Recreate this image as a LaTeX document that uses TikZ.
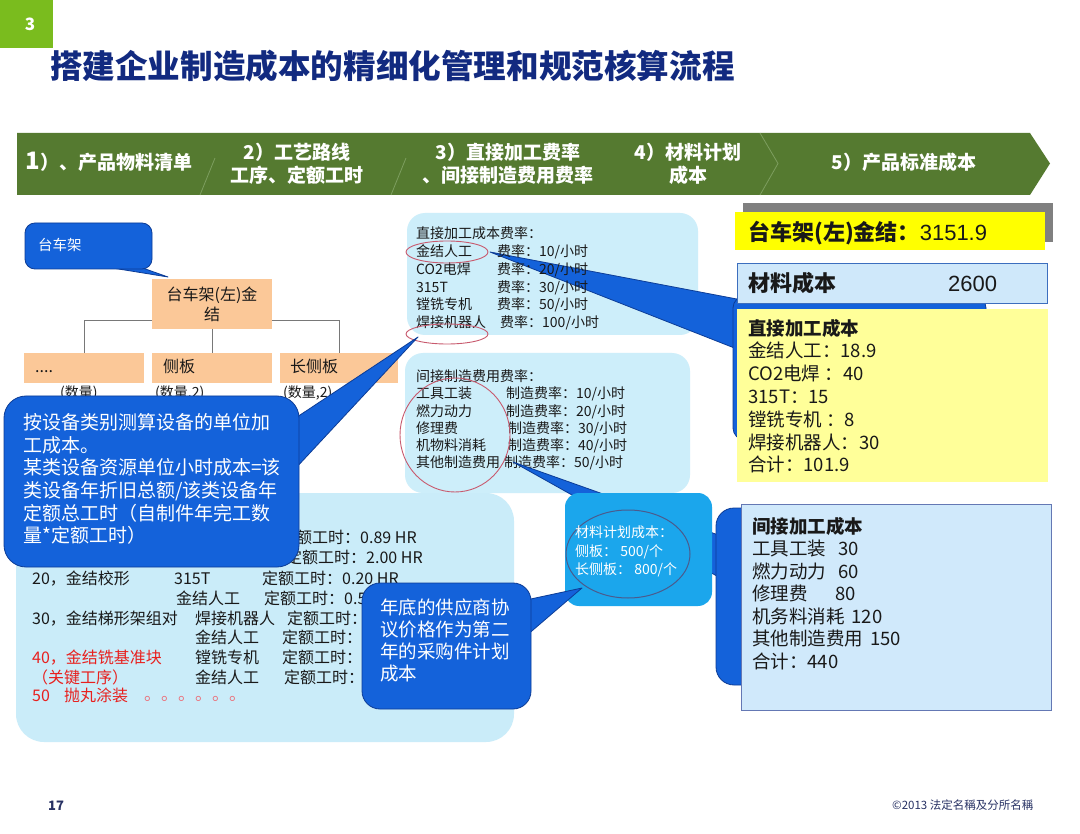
\documentclass[tikz,border=0pt]{standalone}
\usepackage{fontspec}
\setmainfont{Noto Sans CJK SC}
\newfontfamily\lat{Liberation Sans}
\usetikzlibrary{shapes.geometric}
\newcommand\fsz[2]{\fontsize{#1}{#2}\selectfont}
\definecolor{hdrgreen}{RGB}{85,122,48}
\definecolor{hdrline}{RGB}{125,158,95}
\definecolor{limegr}{RGB}{122,188,30}
\definecolor{navy}{RGB}{18,42,128}
\definecolor{calfill}{RGB}{20,98,218}
\definecolor{caldraw}{RGB}{12,60,150}
\definecolor{paleblue}{RGB}{205,238,250}
\definecolor{paleblue2}{RGB}{202,236,249}
\definecolor{peach}{RGB}{251,200,152}
\definecolor{cyanbox}{RGB}{27,166,236}
\definecolor{ellred}{RGB}{200,90,110}
\definecolor{ellgray}{RGB}{75,90,140}
\definecolor{brightyellow}{RGB}{255,255,0}
\definecolor{lightyellow}{RGB}{255,255,153}
\definecolor{matblue}{RGB}{207,232,250}
\definecolor{matborder}{RGB}{60,110,190}
\definecolor{indblue}{RGB}{208,233,251}
\definecolor{indborder}{RGB}{100,120,180}
\definecolor{redtext}{RGB}{232,32,30}
\definecolor{dotred}{RGB}{235,110,120}
\definecolor{treeline}{RGB}{120,120,120}
\definecolor{shadowgray}{RGB}{128,128,128}
\definecolor{foot}{RGB}{40,50,100}
\definecolor{ink}{RGB}{25,25,25}
\tikzset{
 sbox/.style={anchor=north west, inner sep=0pt, outer sep=0pt},
 lbl/.style={anchor=north west, inner sep=0pt, align=left, text=ink},
 tb/.style={anchor=base west, inner sep=0pt, text=ink},
 callbody/.style={sbox, fill=calfill, draw=caldraw, line width=0.8pt, rounded corners=#1},
 callptr/.style={fill=calfill, draw=caldraw, line width=0.8pt, line join=round},
 pale/.style={sbox, fill=paleblue, rounded corners=#1},
 peachbox/.style={sbox, fill=peach},
 redell/.style={ellipse, draw=ellred, line width=0.9pt, inner sep=0pt},
 hdr/.style={text=white, inner sep=0pt, font=\fsz{19}{23}\bfseries, align=center},
 treeedge/.style={draw=treeline, line width=0.9pt},
}
\begin{document}
\begin{tikzpicture}[x=1pt,y=-1pt]
\useasboundingbox[fill=white] (0,0) rectangle (1080,834);

% badge and title
\node[sbox, fill=limegr, minimum width=53pt, minimum height=48pt] (badge) at (0,0) {};
\node[anchor=base, inner sep=0pt, text=white, font=\fsz{17}{17}\bfseries] (badgenum) at (30,31) {3};
\node[anchor=base west, inner sep=0pt, text=navy, font=\fsz{32.6}{34}\bfseries] (title) at (50,79) {搭建企业制造成本的精细化管理和规范核算流程};

% header bar
\fill[hdrgreen] (17,133) -- (1030,133) -- (1050,163.5) -- (1030,195) -- (17,195) -- cycle;
\draw[hdrline, line width=0.8pt] (215,158) -- (200,195);
\draw[hdrline, line width=0.8pt] (406,158) -- (391,195);
\draw[hdrline, line width=0.8pt] (760,133) -- (778,163.5) -- (760,195);
\node[hdr, anchor=base] (h1) at (109,170) {{\fsz{24}{24}1}）、产品物料清单};
\node[hdr, anchor=center] (h2) at (297,163.5) {2）工艺路线\\工序、定额工时};
\node[hdr, anchor=center] (h3) at (508,163.5) {3）直接加工费率\\、间接制造费用费率};
\node[hdr, anchor=center] (h4) at (688,163.5) {4）材料计划\\成本};
\node[hdr, anchor=base] (h5) at (904,170) {5）产品标准成本};

% BOM tree
\node[peachbox, minimum width=120pt, minimum height=50pt, align=center, text=ink, font=\fsz{16}{20}] (parent) at (152,279) {台车架(左)金\\结};
\node[peachbox, minimum width=120pt, minimum height=30pt] (c1) at (24,353) {};
\node[peachbox, minimum width=120pt, minimum height=30pt] (c2) at (152,353) {};
\node[peachbox, minimum width=118pt, minimum height=30pt] (c3) at (280,353) {};
\node[tb, font=\fsz{16}{20}] (c1t) at (35,373) {....};
\node[tb, font=\fsz{16}{20}] (c2t) at (163,373) {侧板};
\node[tb, font=\fsz{16}{20}] (c3t) at (290,373) {长侧板};
\draw[treeedge] ([yshift=9pt]parent.south west) -| (c1.north);
\draw[treeedge] ([yshift=9pt]parent.south east) -| (c3.north);
\draw[treeedge] (parent.south) -- (c2.north);
\node[tb, font=\fsz{14}{17}] (q1) at (60,398) {(数量)};
\node[tb, font=\fsz{14}{17}] (q2) at (155,398) {(数量,2)};
\node[tb, font=\fsz{14}{17}] (q3) at (283,398) {(数量,2)};

% rate boxes
\node[pale=18pt, minimum width=291pt, minimum height=122pt] (drbox) at (407,213) {};
\node[pale=18pt, minimum width=285pt, minimum height=140pt] (irbox) at (405,353) {};
\node[sbox, fill=paleblue2, rounded corners=28pt, minimum width=498pt, minimum height=249pt] (bbox) at (16,493) {};

% hidden callout behind the yellow box
\coordinate (h1tip) at (490,252);
\path[callptr] (h1tip) -- (742,300) -- (742,351) -- cycle;
\node[callbody=12pt, minimum width=253pt, minimum height=144pt] (hid1) at (733,296) {};

% direct rate text
\node[lbl, font=\fsz{14}{17.8}] (drtext) at (416,226.7) {直接加工成本费率：\\
\makebox[81pt][l]{金结人工}费率：10/小时\\
\makebox[81pt][l]{CO2电焊}费率：20/小时\\
\makebox[81pt][l]{315T}费率：30/小时\\
\makebox[81pt][l]{镗铣专机}费率：50/小时\\
\makebox[84pt][l]{焊接机器人}费率：100/小时};
\node[redell, minimum width=82pt, minimum height=22pt] (e1) at (447,252) {};
\node[redell, minimum width=82pt, minimum height=20pt] (e2) at (447,334) {};

% indirect rate text
\node[lbl, font=\fsz{14}{17.2}] (irtext) at (416,369.7) {间接制造费用费率：\\
\makebox[90pt][l]{工具工装}制造费率：10/小时\\
\makebox[90pt][l]{燃力动力}制造费率：20/小时\\
\makebox[92pt][l]{修理费}制造费率：30/小时\\
\makebox[92pt][l]{机物料消耗}制造费率：40/小时\\
\makebox[88pt][l]{其他制造费用}制造费率：50/小时};
\node[redell, minimum width=110pt, minimum height=114pt] (e3) at (455,435) {};

% hidden callout behind the indirect cost box
\coordinate (h2tip) at (513,462);
\path[callptr] (h2tip) -- (724,537) -- (724,580) -- cycle;
\node[callbody=18pt, minimum width=80pt, minimum height=177pt] (hid2) at (716,508) {};

% routing text in bottom box
\begin{scope}[every node/.style={tb, font=\fsz{16}{20}}]
\node (r1c) at (280,543) {定额工时：0.89 HR};
\node (r2c) at (286,563) {定额工时：2.00 HR};
\node (r3a) at (32,584) {20，金结校形};
\node (r3b) at (174,584) {315T};
\node (r3c) at (262,584) {定额工时：0.20 HR};
\node (r4b) at (176,604) {金结人工};
\node (r4c) at (264,604) {定额工时：0.5};
\node (r5a) at (32,624) {30，金结梯形架组对};
\node (r5b) at (195,624) {焊接机器人};
\node (r5c) at (287,624) {定额工时：};
\node (r6b) at (195,643) {金结人工};
\node (r6c) at (282,643) {定额工时：};
\node[text=redtext] (r7a) at (32,663) {40，金结铣基准块};
\node (r7b) at (195,663) {镗铣专机};
\node (r7c) at (282,663) {定额工时：};
\node[text=redtext] (r8a) at (32,683) {（关键工序）};
\node (r8b) at (195,683) {金结人工};
\node (r8c) at (284,683) {定额工时：};
\node[text=redtext] (r9a) at (32,701) {50};
\node[text=redtext] (r9b) at (64,701) {抛丸涂装};
\node[text=dotred, font=\fsz{17}{20}] (r9c) at (144,700) {。。。。。。};
\end{scope}

% big callout
\coordinate (bigtip) at (418,337);
\path[callptr] (bigtip) -- (294,419) -- (294,470) -- cycle;
\node[callbody=22pt, minimum width=295pt, minimum height=171pt] (bigcall) at (4,396) {};
\node[lbl, text=white, font=\fsz{19}{22.6}] (bigtext) at (23,413.5) {按设备类别测算设备的单位加\\工成本。\\某类设备资源单位小时成本=该\\类设备年折旧总额/该类设备年\\定额总工时（自制件年完工数\\量*定额工时）};

% small callout 台车架
\coordinate (smtip) at (168,277);
\path[callptr] (smtip) -- (100,266) -- (137,266) -- cycle;
\node[callbody=10pt, minimum width=127pt, minimum height=46pt] (smcall) at (25,223) {};
\node[tb, text=white, font=\fsz{14.5}{17}] (smtext) at (38,250.5) {台车架};

% right result boxes
\node[sbox, fill=shadowgray, minimum width=310pt, minimum height=39pt] (totshadow) at (743,203) {};
\node[sbox, fill=brightyellow, minimum width=310pt, minimum height=38pt] (totbox) at (735,212) {};
\node[tb, font=\fsz{22}{26}] (tottext) at (748,240.4) {{\bfseries 台车架(左)金结：}{\lat 3151.9}};
\node[sbox, fill=matblue, draw=matborder, line width=0.8pt, minimum width=310pt, minimum height=40pt] (matbox) at (737,263) {};
\node[tb, font=\fsz{22}{26}\bfseries] (mattext) at (748,291.4) {材料成本};
\node[tb, font=\fsz{22}{26}\lat] (matval) at (948,291.4) {2600};
\node[sbox, fill=lightyellow, minimum width=311pt, minimum height=173pt] (dcbox) at (737,309) {};
\node[lbl, font=\fsz{18.5}{22.8}] (dctext) at (748,318.7) {{\bfseries 直接加工成本}\\
金结人工：18.9\\
CO2电焊 ：40\\
315T：15\\
镗铣专机 ：8\\
焊接机器人：30\\
合计：101.9};

% cyan material plan box
\node[sbox, fill=cyanbox, rounded corners=14pt, minimum width=147pt, minimum height=113pt] (mpbox) at (565,493) {};
\node[ellipse, draw=ellgray, line width=1pt, inner sep=0pt, minimum width=124pt, minimum height=88pt] (e4) at (628,554) {};
\node[lbl, text=white, font=\fsz{14}{18.5}] (mptext) at (575,525.7) {材料计划成本：\\侧板： 500/个\\长侧板： 800/个};

% indirect cost box
\node[sbox, fill=indblue, draw=indborder, line width=0.8pt, minimum width=310pt, minimum height=206pt] (icbox) at (741,504) {};
\node[lbl, font=\fsz{18.5}{22.5}] (ictext) at (752,516.7) {{\bfseries 间接加工成本}\\
工具工装\hspace{12pt}30\\
燃力动力\hspace{12pt}60\\
修理费\hspace{28pt}80\\
机务料消耗\hspace{7pt}120\\
其他制造费用\hspace{7pt}150\\
合计：440};

% supplier price callout
\coordinate (suptip) at (582,588);
\path[callptr] (suptip) -- (526,600) -- (526,636) -- cycle;
\node[callbody=18pt, minimum width=169pt, minimum height=126pt] (supcall) at (362,583) {};
\node[lbl, text=white, font=\fsz{18.5}{22}] (suptext) at (380,598.7) {年底的供应商协\\议价格作为第二\\年的采购件计划\\成本};

% footer
\node[tb, text=foot, font=\fsz{13}{15}\bfseries] (pageno) at (48,810) {17};
\node[tb, text=foot, font=\fsz{11.5}{14}] (copy) at (892,809) {©2013 法定名稱及分所名稱};
\end{tikzpicture}
\end{document}
